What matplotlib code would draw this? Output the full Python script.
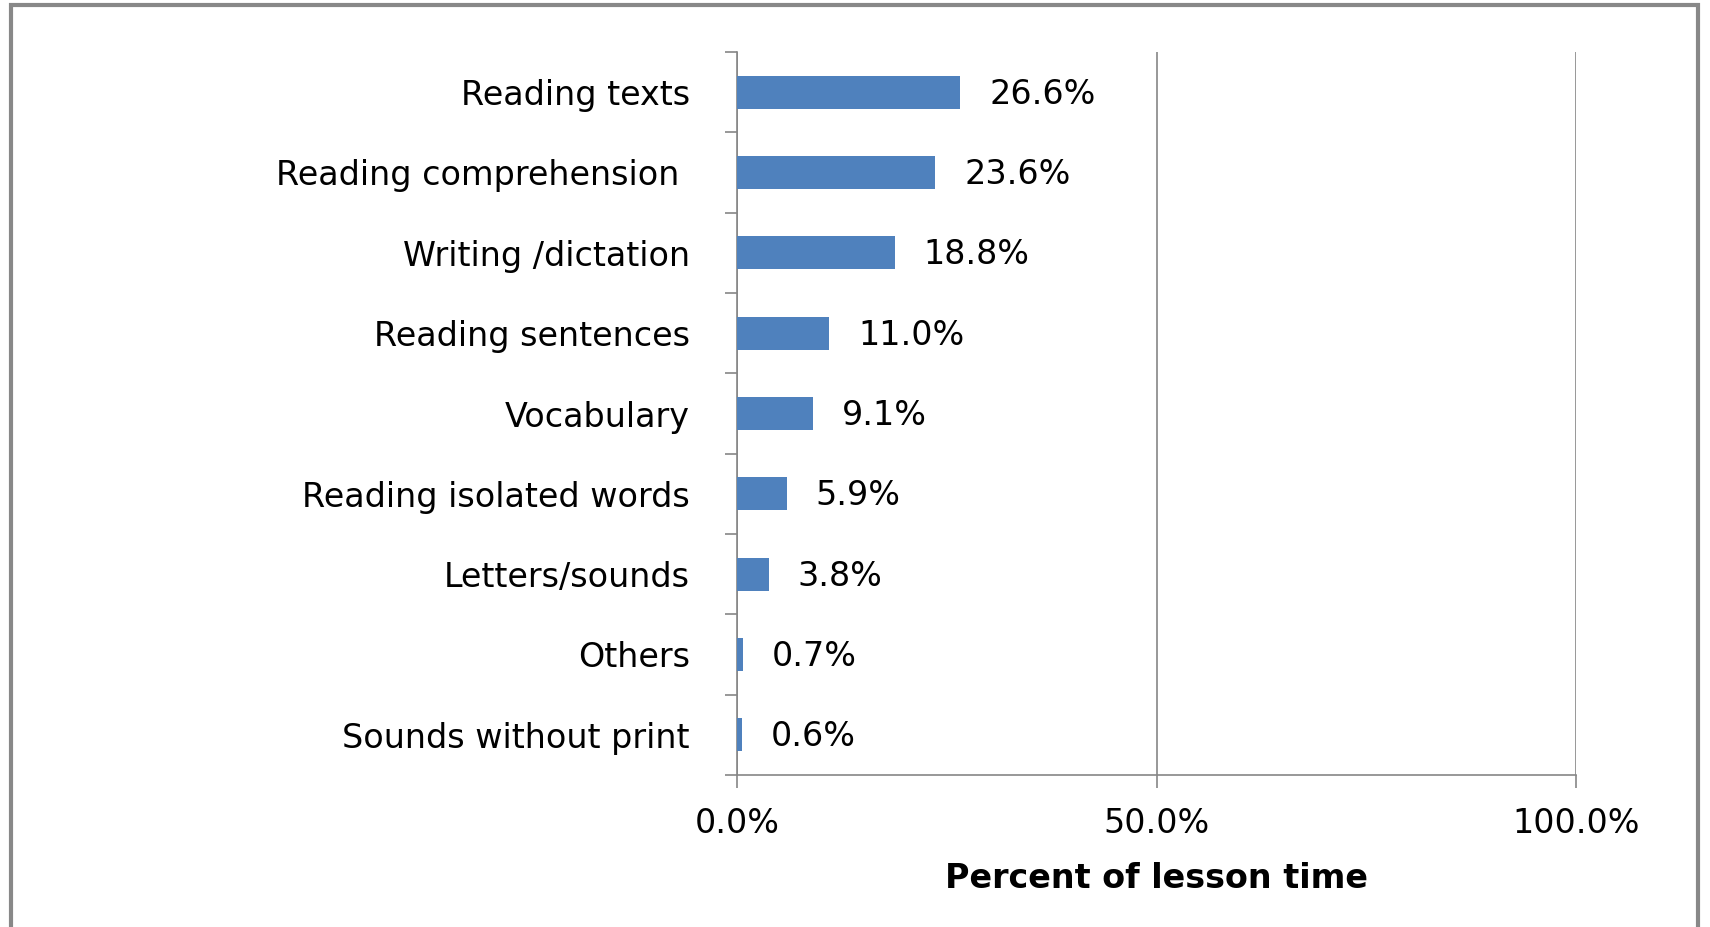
import matplotlib
matplotlib.use("Agg")
import matplotlib.pyplot as plt
from matplotlib.lines import Line2D
from matplotlib.ticker import FixedLocator

categories = ["Reading texts", "Reading comprehension ", "Writing /dictation",
              "Reading sentences", "Vocabulary", "Reading isolated words",
              "Letters/sounds", "Others", "Sounds without print"]
values = [26.6, 23.6, 18.8, 11.0, 9.1, 5.9, 3.8, 0.7, 0.6]
xticks = [0, 50, 100]
xticklabels = ["0.0%", "50.0%", "100.0%"]
xlabel = "Percent of lesson time"

plt.rcParams['font.family'] = ['DejaVu Sans']
FS = 24
W, H = 1710, 927
fig = plt.figure(figsize=(W / 100, H / 100), dpi=100)
ax = fig.add_axes([737 / W, 1 - 775 / H, (1576 - 737) / W, (775 - 52) / H])

n = len(categories)
ypos = list(range(n))
ax.barh(ypos, values, height=0.41, color="#4F81BD", zorder=3)
ax.set_ylim(n - 0.5, -0.5)
ax.set_xlim(0, 100)

for y, v in zip(ypos, values):
    ax.annotate(f"{v:.1f}%", xy=(v, y), xytext=(29, -2), textcoords="offset pixels",
                va="center", ha="left", fontsize=FS, color="black")

gray = "#868686"
ax.set_yticks(ypos)
ax.set_yticklabels(categories, fontsize=FS)
ax.yaxis.set_minor_locator(FixedLocator([i - 0.5 for i in range(n + 1)]))
ax.tick_params(axis="y", which="major", length=0, pad=34)
ax.tick_params(axis="y", which="minor", length=9, width=1.2, color=gray, direction="out")

ax.set_xticks(xticks)
ax.set_xticklabels(xticklabels, fontsize=FS)
ax.tick_params(axis="x", which="major", length=9, width=1.2, color=gray, direction="out", pad=14)

ax.grid(axis="x", color=gray, linewidth=1.2, zorder=0)
for s in ["top", "right"]:
    ax.spines[s].set_visible(False)
for s in ["left", "bottom"]:
    ax.spines[s].set_color(gray)
    ax.spines[s].set_linewidth(1.2)

ax.set_xlabel(xlabel, fontsize=FS, fontweight="bold", labelpad=16)

# outer border (open at bottom)
bx0, bx1, by1 = 11 / W, 1698 / W, 1 - 5 / H
fig.add_artist(Line2D([bx0, bx0, bx1, bx1], [0, by1, by1, 0], transform=fig.transFigure,
                      color="#888888", linewidth=3, solid_joinstyle="miter"))

fig.savefig("out.png", dpi=100)
